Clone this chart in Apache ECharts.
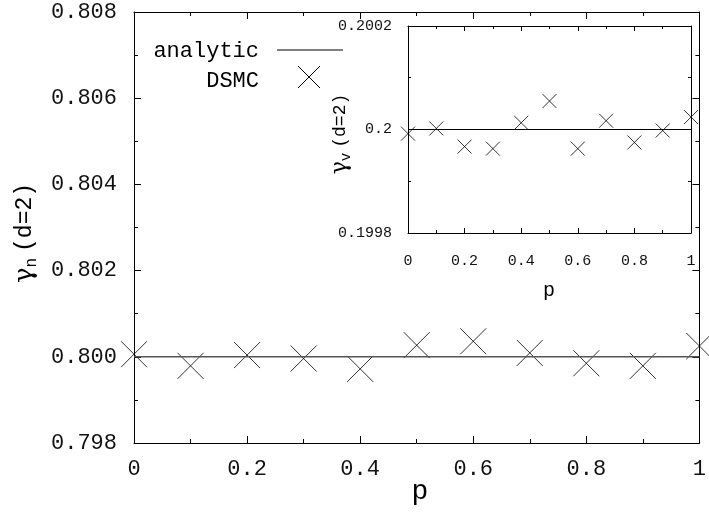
<!DOCTYPE html>
<html><head><meta charset="utf-8">
<script src="https://cdn.jsdelivr.net/npm/echarts@6/dist/echarts.min.js"></script>
<style>html,body{margin:0;padding:0;background:#fff}#c{width:709px;height:514px}</style>
</head><body><div id="c"></div>
<script>
// ---- data ----
const pValues = [0, 0.1, 0.2, 0.3, 0.4, 0.5, 0.6, 0.7, 0.8, 0.9, 1.0];
const gammaN_DSMC = [0.80006, 0.79979, 0.80004, 0.79996, 0.79972, 0.80027, 0.80036, 0.80009, 0.79985, 0.79979, 0.80025];
const gammaN_analytic = 0.8;
const gammaV_DSMC = [0.199992, 0.200002, 0.199967, 0.199963, 0.200013, 0.200055, 0.199963, 0.200017, 0.199975, 0.199998, 0.200024];
const gammaV_analytic = 0.2;
const pRange = [0, 1];
const mainYTicks = [0.798, 0.808, 0.002];
const insetYTicks = [0.1998, 0.2002, 0.0002];

const MONO = '"Liberation Mono", "DejaVu Sans Mono", monospace';
const CROSS = 'path://M0,0L10,10M10,0L0,10';

function mkAxis(gridIndex, position, range, interval, labels, fontSize, margin, majorLen, minorLen, formatter) {
  return {
    type: 'value', gridIndex: gridIndex, position: position,
    min: range[0], max: range[1], interval: interval,
    axisLine: {show: true, onZero: false, lineStyle: {color: '#000', width: 1}},
    axisTick: {show: true, inside: true, length: majorLen, lineStyle: {color: '#000', width: 1}},
    minorTick: {show: true, splitNumber: 2, length: minorLen, lineStyle: {color: '#000', width: 1}},
    splitLine: {show: false},
    axisLabel: {show: labels, fontFamily: MONO, fontSize: fontSize, color: '#111', margin: margin, formatter: formatter}
  };
}
const fmtP = v => String(parseFloat(v.toFixed(1)));
const fmtMain = v => v.toFixed(3);
const fmtInset = v => String(parseFloat(v.toFixed(4)));

const chart = echarts.init(document.getElementById('c'), null, {renderer: 'canvas'});

const option = {
  animation: false,
  backgroundColor: '#fff',
  grid: [
    {left: 134, top: 12, right: 3, bottom: 71},
    {left: 408, top: 26, width: 283, height: 207}
  ],
  xAxis: [
    mkAxis(0, 'bottom', pRange, 0.2, true, 22, 15, 7, 4, fmtP),
    mkAxis(0, 'top', pRange, 0.2, false, 22, 15, 7, 4, fmtP),
    mkAxis(1, 'bottom', pRange, 0.2, true, 15, 21, 5, 3, fmtP),
    mkAxis(1, 'top', pRange, 0.2, false, 15, 21, 5, 3, fmtP)
  ],
  yAxis: [
    mkAxis(0, 'left', [mainYTicks[0], mainYTicks[1]], mainYTicks[2], true, 22, 17, 7, 4, fmtMain),
    mkAxis(0, 'right', [mainYTicks[0], mainYTicks[1]], mainYTicks[2], false, 22, 17, 7, 4, fmtMain),
    mkAxis(1, 'left', [insetYTicks[0], insetYTicks[1]], insetYTicks[2], true, 15, 16, 5, 3, fmtInset),
    mkAxis(1, 'right', [insetYTicks[0], insetYTicks[1]], insetYTicks[2], false, 15, 16, 5, 3, fmtInset)
  ],
  series: [
    {
      name: 'analytic', type: 'line', xAxisIndex: 1, yAxisIndex: 1,
      data: pRange.map(p => [p, gammaN_analytic]), showSymbol: false, symbol: 'none',
      lineStyle: {color: '#555', width: 1.5}
    },
    {
      name: 'DSMC', type: 'scatter', xAxisIndex: 0, yAxisIndex: 0, clip: false,
      data: pValues.map((p, i) => [p, gammaN_DSMC[i]]),
      symbol: CROSS, symbolSize: 26,
      itemStyle: {color: 'rgba(0,0,0,0)', borderColor: '#000', borderWidth: 1}
    },
    {
      name: 'analytic inset', type: 'line', xAxisIndex: 3, yAxisIndex: 3,
      data: pRange.map(p => [p, gammaV_analytic]), showSymbol: false, symbol: 'none',
      lineStyle: {color: '#000', width: 1}
    },
    {
      name: 'DSMC inset', type: 'scatter', xAxisIndex: 2, yAxisIndex: 2, clip: false,
      data: pValues.map((p, i) => [p, gammaV_DSMC[i]]),
      symbol: CROSS, symbolSize: 14,
      itemStyle: {color: 'rgba(0,0,0,0)', borderColor: '#000', borderWidth: 1}
    }
  ],
  graphic: [
    // axis titles
    {type: 'text', x: 420, y: 492, style: {text: 'p', font: '28px ' + MONO, fill: '#000', textAlign: 'center', textVerticalAlign: 'middle'}},
    {type: 'text', x: 549, y: 291, style: {text: 'p', font: '20px ' + MONO, fill: '#000', textAlign: 'center', textVerticalAlign: 'middle'}},
    {type: 'text', x: 25, y: 233, rotation: Math.PI / 2,
      style: {
        text: '{g|γ}{s|n}{t|(d=2)}', textAlign: 'center', textVerticalAlign: 'middle', fill: '#000',
        rich: {
          g: {fontFamily: '"DejaVu Serif", serif', fontSize: 26, lineHeight: 30, verticalAlign: 'middle'},
          s: {fontFamily: MONO, fontSize: 16, lineHeight: 30, verticalAlign: 'bottom', padding: [0, 6, 0, 0]},
          t: {fontFamily: MONO, fontSize: 23, lineHeight: 30, verticalAlign: 'middle'}
        }
      }},
    {type: 'text', x: 340, y: 134, rotation: Math.PI / 2,
      style: {
        text: '{g|γ}{s|v}{t|(d=2)}', textAlign: 'center', textVerticalAlign: 'middle', fill: '#000',
        rich: {
          g: {fontFamily: '"DejaVu Serif", serif', fontSize: 22, lineHeight: 26, verticalAlign: 'middle'},
          s: {fontFamily: MONO, fontSize: 14, lineHeight: 26, verticalAlign: 'bottom', padding: [0, 5, 0, 0]},
          t: {fontFamily: MONO, fontSize: 18, lineHeight: 26, verticalAlign: 'middle'}
        }
      }},
    // legend
    {type: 'text', x: 259, y: 51, style: {text: 'analytic', font: '22px ' + MONO, fill: '#000', textAlign: 'right', textVerticalAlign: 'middle'}},
    {type: 'line', shape: {x1: 277, y1: 50, x2: 343, y2: 50}, style: {stroke: '#000', lineWidth: 1}},
    {type: 'text', x: 259, y: 81, style: {text: 'DSMC', font: '22px ' + MONO, fill: '#000', textAlign: 'right', textVerticalAlign: 'middle'}},
    {type: 'polyline', shape: {points: [[298, 66], [320, 88]]}, style: {stroke: '#000', lineWidth: 1, fill: null}},
    {type: 'polyline', shape: {points: [[320, 66], [298, 88]]}, style: {stroke: '#000', lineWidth: 1, fill: null}}
  ]
};
chart.setOption(option);
</script></body></html>
